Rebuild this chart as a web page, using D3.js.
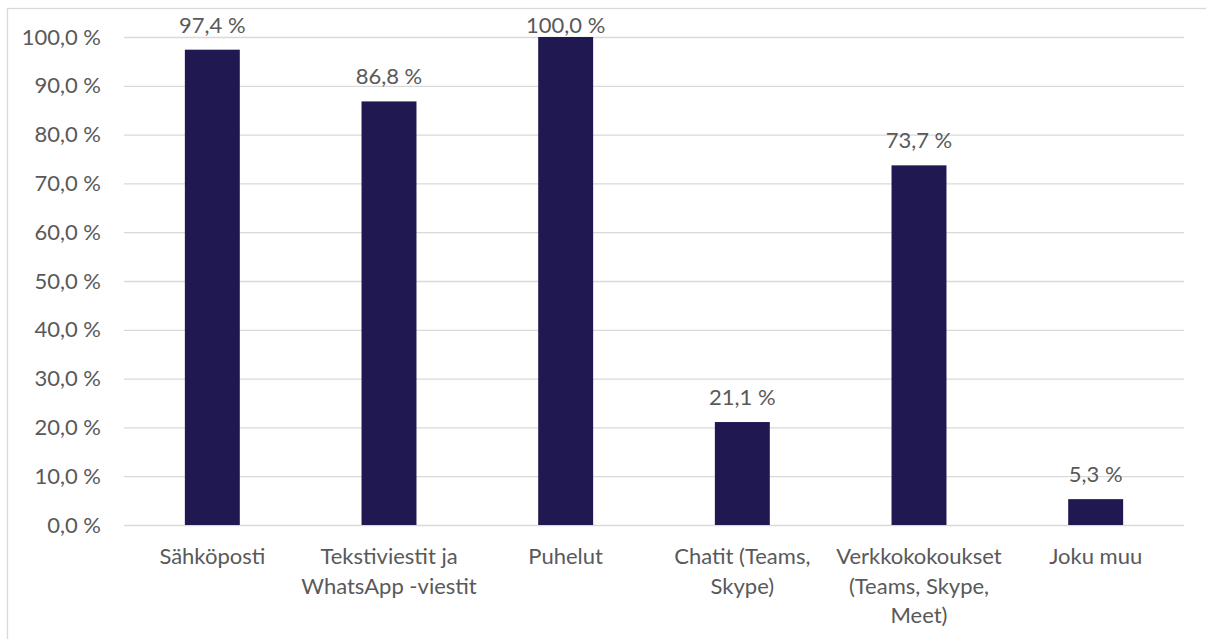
<!DOCTYPE html>
<html>
<head>
<meta charset="utf-8">
<script src="https://cdn.jsdelivr.net/npm/d3@7"></script>
<style>
  html, body { margin: 0; padding: 0; background: #ffffff; }
  svg { display: block; }
  text { font-family: Lato, "Open Sans", sans-serif; fill: #595959; }
</style>
</head>
<body>
<svg id="chart" width="1206" height="639"></svg>
<script>
// Viestintäkanavat: osuus vastaajista (%)
const categories = [
  "Sähköposti",
  "Tekstiviestit ja\nWhatsApp -viestit",
  "Puhelut",
  "Chatit (Teams,\nSkype)",
  "Verkkokokoukset\n(Teams, Skype,\nMeet)",
  "Joku muu"
];
const values = [97.4, 86.8, 100.0, 21.1, 73.7, 5.3];
const yTicks = [0, 10, 20, 30, 40, 50, 60, 70, 80, 90, 100];

const fmt = v => d3.format(".1f")(v).replace(".", ",") + " %";

const svg = d3.select("#chart");
const W = 1206, H = 639;
const plot = { left: 124, right: 1184, top: 37, bottom: 525 };
const fontSize = 22;

// chart area frame (extends past right and bottom edges)
svg.append("rect")
  .attr("x", 7.5).attr("y", 8.5)
  .attr("width", W + 20).attr("height", H + 20)
  .attr("fill", "#ffffff")
  .attr("stroke", "#d9d9d9").attr("stroke-width", 1.3);

const x = d3.scaleBand()
  .domain(categories)
  .range([plot.left, plot.right])
  .paddingInner(0.689)
  .paddingOuter(0.3445);

const y = d3.scaleLinear()
  .domain([0, 100])
  .range([plot.bottom, plot.top]);

// gridlines
const yAxis = d3.axisLeft(y)
  .tickValues(yTicks)
  .tickSize(-(plot.right - plot.left))
  .tickPadding(23)
  .tickFormat(fmt);

const gy = svg.append("g")
  .attr("transform", `translate(${plot.left},0)`)
  .call(yAxis);
gy.select(".domain").remove();
gy.selectAll(".tick line").attr("stroke", "#d9d9d9").attr("stroke-width", 1.3);
gy.selectAll(".tick text")
  .attr("font-size", fontSize)
  .attr("fill", "#595959")
  .attr("font-family", "Lato, 'Open Sans', sans-serif");

// bars
svg.append("g").selectAll("rect")
  .data(values)
  .join("rect")
  .attr("x", (d, i) => x(categories[i]))
  .attr("width", x.bandwidth())
  .attr("y", d => y(d))
  .attr("height", d => y(0) - y(d))
  .attr("fill", "#201850");

// value labels
svg.append("g").selectAll("text")
  .data(values)
  .join("text")
  .attr("x", (d, i) => x(categories[i]) + x.bandwidth() / 2)
  .attr("y", d => Math.max(33, y(d) - 17.5))
  .attr("text-anchor", "middle")
  .attr("font-size", fontSize)
  .text(d => fmt(d));

// category labels (wrapped)
const lineH = 29.5;
const cat = svg.append("g").selectAll("text")
  .data(categories)
  .join("text")
  .attr("text-anchor", "middle")
  .attr("font-size", fontSize)
  .attr("x", d => x(d) + x.bandwidth() / 2)
  .attr("y", 564);
cat.each(function(d) {
  const t = d3.select(this);
  const cx = x(d) + x.bandwidth() / 2;
  d.split("\n").forEach((line, k) => {
    t.append("tspan")
      .attr("x", cx)
      .attr("y", 564 + k * lineH)
      .text(line);
  });
});
</script>
</body>
</html>
